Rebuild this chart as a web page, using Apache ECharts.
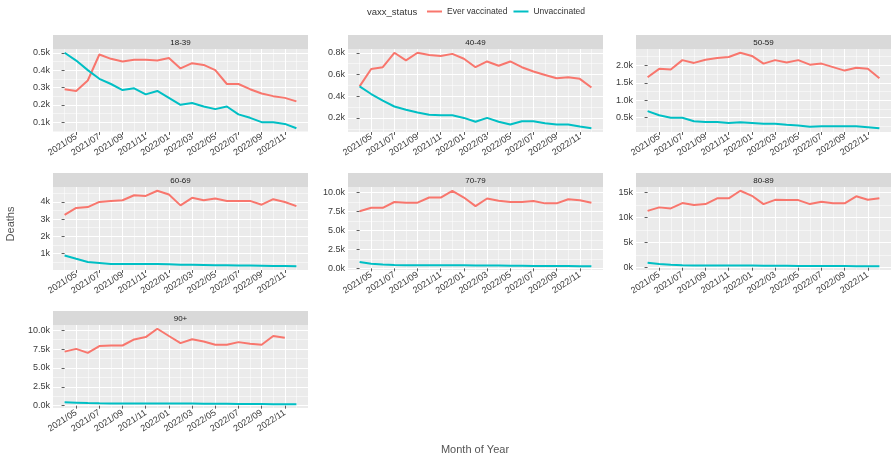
<!DOCTYPE html>
<html><head><meta charset="utf-8">
<script src="https://cdn.jsdelivr.net/npm/echarts@6/dist/echarts.min.js"></script>
<style>html,body{margin:0;padding:0;background:#fff}#c{width:894px;height:459px}</style>
</head><body><div id="c"></div>
<script>
// ---- data ----
const months = ['2021/04','2021/05','2021/06','2021/07','2021/08','2021/09','2021/10','2021/11','2021/12',
  '2022/01','2022/02','2022/03','2022/04','2022/05','2022/06','2022/07','2022/08','2022/09','2022/10','2022/11','2022/12'];
const xTickLabels = ['2021/05','2021/07','2021/09','2021/11','2022/01','2022/03','2022/05','2022/07','2022/09','2022/11'];
const ageGroups = ['18-39','40-49','50-59','60-69','70-79','80-89','90+'];
const seriesNames = ['Ever vaccinated','Unvaccinated'];

const ever_18_39 = [290,280,340,490,465,450,460,460,455,470,410,440,430,400,320,320,290,265,250,240,220];
const unvax_18_39 = [500,455,400,350,320,285,295,260,280,240,200,210,190,175,190,145,125,100,100,90,65];
const ever_40_49 = [490,650,667,800,730,800,780,770,790,745,667,720,680,720,667,627,596,565,575,560,480];
const unvax_40_49 = [490,420,360,305,275,250,230,225,225,200,165,200,165,140,170,170,150,140,140,120,105];
const ever_50_59 = [1660,1900,1880,2150,2070,2160,2210,2240,2360,2270,2050,2150,2080,2150,2020,2050,1950,1850,1930,1900,1630];
const unvax_50_59 = [690,570,500,500,400,380,380,350,370,350,330,330,300,280,240,260,260,260,260,230,200];
const ever_60_69 = [3250,3650,3700,4000,4060,4100,4390,4350,4650,4430,3800,4240,4100,4200,4060,4060,4060,3840,4160,4000,3760];
const unvax_60_69 = [880,690,510,450,390,390,390,390,390,370,350,340,330,320,310,300,300,290,280,280,260];
const ever_70_79 = [7530,7980,7980,8740,8650,8650,9330,9330,10220,9330,8200,9200,8900,8740,8740,8880,8560,8560,9100,8970,8650];
const unvax_70_79 = [850,600,500,450,420,400,400,400,420,400,380,380,360,340,330,320,310,300,300,290,280];
const ever_80_89 = [11300,12000,11800,12850,12450,12650,13800,13800,15300,14300,12650,13500,13450,13450,12650,13100,12800,12800,14200,13500,13800];
const unvax_80_89 = [1000,750,600,500,450,430,420,420,430,420,400,390,380,370,360,350,340,330,320,310,300];
const ever_90p = [7170,7530,7000,7900,7980,7980,8790,9100,10200,9240,8300,8800,8500,8070,8070,8430,8200,8070,9240,9000,null];
const unvax_90p = [450,400,350,320,300,290,290,290,300,290,280,270,260,250,240,230,220,210,200,200,190];

const yBreaks_18_39 = [100,200,300,400,500];
const yBreaks_40_49 = [200,400,600,800];
const yBreaks_50_59 = [500,1000,1500,2000];
const yBreaks_60_69 = [1000,2000,3000,4000];
const yBreaks_70_79 = [0,2500,5000,7500,10000];
const yBreaks_80_89 = [0,5000,10000,15000];
const yBreaks_90p = [0,2500,5000,7500,10000];

// ---- assembly ----
const everAll = [ever_18_39,ever_40_49,ever_50_59,ever_60_69,ever_70_79,ever_80_89,ever_90p];
const unvaxAll = [unvax_18_39,unvax_40_49,unvax_50_59,unvax_60_69,unvax_70_79,unvax_80_89,unvax_90p];
const yBreaksAll = [yBreaks_18_39,yBreaks_40_49,yBreaks_50_59,yBreaks_60_69,yBreaks_70_79,yBreaks_80_89,yBreaks_90p];
const yDecimals = [1,1,1,0,1,0,1];

const colors = ['#F8766D','#00BFC4'];
const FONT = 'Liberation Sans, Arial, sans-serif';
const AXIS_FS = 9;
const colLeft = [53,348,636], panelW = 255;
const rowTop = [35,173,311], stripH = 14, plotH = 83;

const xMajor = xTickLabels.map(l => months.indexOf(l));
const xMinor = [];
for (let i = 0; i < months.length; i += 2) xMinor.push(i);
const xMin = -1, xMax = months.length;

const grids = [], xAxes = [], yAxes = [], series = [], graphics = [];
ageGroups.forEach((g, i) => {
  const col = i % 3, row = Math.floor(i / 3);
  const left = colLeft[col], top = rowTop[row] + stripH;
  grids.push({left: left, top: top, width: panelW, height: plotH, show: true,
    backgroundColor: '#EBEBEB', borderWidth: 0, containLabel: false});
  graphics.push({type: 'rect', left: left, top: rowTop[row], shape: {width: panelW, height: stripH},
    style: {fill: '#D9D9D9'}, silent: true});
  graphics.push({type: 'text', x: left + panelW / 2, y: rowTop[row] + stripH / 2 + 0.5,
    style: {text: g, fill: '#1A1A1A', font: '8px ' + FONT, textAlign: 'center', textVerticalAlign: 'middle'}, silent: true});

  const vals = everAll[i].concat(unvaxAll[i]).filter(v => v != null);
  const lo = Math.min.apply(null, vals), hi = Math.max.apply(null, vals);
  const pad = (hi - lo) * 0.05;
  const yMin = lo - pad, yMax = hi + pad;
  const br = yBreaksAll[i];
  const step = br[1] - br[0];
  const yMinor = [];
  for (let k = 0; k < br.length - 1; k++) yMinor.push((br[k] + br[k+1]) / 2);
  if (br[0] - step / 2 >= yMin) yMinor.unshift(br[0] - step / 2);
  if (br[br.length-1] + step / 2 <= yMax) yMinor.push(br[br.length-1] + step / 2);
  const dec = yDecimals[i];

  xAxes.push({type: 'value', gridIndex: i, min: xMin, max: xMax, position: 'bottom',
    axisLine: {show: false},
    axisTick: {show: true, customValues: xMajor, length: 3, lineStyle: {color: '#333', width: 0.8}},
    axisLabel: {show: true, customValues: xMajor, rotate: 33, margin: 4, fontSize: AXIS_FS, fontFamily: FONT,
      color: '#3A3A3A', formatter: v => months[Math.round(v)] || ''},
    splitLine: {show: true, lineStyle: {color: '#FFFFFF', width: 1}}});
  xAxes.push({type: 'value', gridIndex: i, min: xMin, max: xMax, position: 'top',
    axisLine: {show: false}, axisLabel: {show: false},
    axisTick: {show: false, customValues: xMinor},
    splitLine: {show: true, lineStyle: {color: '#FFFFFF', width: 0.5}}});
  yAxes.push({type: 'value', gridIndex: i, min: yMin, max: yMax, position: 'left',
    axisLine: {show: false},
    axisTick: {show: true, customValues: br, length: 3, lineStyle: {color: '#333', width: 0.8}},
    axisLabel: {show: true, customValues: br, margin: 3, fontSize: AXIS_FS, fontFamily: FONT, color: '#3A3A3A',
      formatter: v => (v / 1000).toFixed(dec) + 'k'},
    splitLine: {show: true, lineStyle: {color: '#FFFFFF', width: 1}}});
  yAxes.push({type: 'value', gridIndex: i, min: yMin, max: yMax, position: 'right',
    axisLine: {show: false}, axisLabel: {show: false},
    axisTick: {show: false, customValues: yMinor},
    splitLine: {show: true, lineStyle: {color: '#FFFFFF', width: 0.5}}});

  [everAll[i], unvaxAll[i]].forEach((arr, s) => {
    series.push({type: 'line', name: seriesNames[s], xAxisIndex: 2 * i, yAxisIndex: 2 * i,
      data: arr.map((v, j) => [j, v]), showSymbol: false, symbol: 'none', connectNulls: false,
      color: colors[s], lineStyle: {width: 2, color: colors[s]}, silent: true, animation: false});
  });
});

graphics.push({type: 'text', x: 367, y: 12,
  style: {text: 'vaxx_status', fill: '#333', font: '9.5px ' + FONT, textVerticalAlign: 'middle'}});
graphics.push({type: 'text', x: 475, y: 450,
  style: {text: 'Month of Year', fill: '#555', font: '11px ' + FONT, textAlign: 'center', textVerticalAlign: 'middle'}});
graphics.push({type: 'text', x: 11, y: 224, rotation: Math.PI / 2,
  style: {text: 'Deaths', fill: '#555', font: '11px ' + FONT, textAlign: 'center', textVerticalAlign: 'middle'}});

const chart = echarts.init(document.getElementById('c'), null, {renderer: 'canvas'});
chart.setOption({
  animation: false,
  backgroundColor: '#FFFFFF',
  grid: grids, xAxis: xAxes, yAxis: yAxes, series: series,
  legend: {data: seriesNames, left: 427, top: 7, padding: 0, icon: 'rect', itemWidth: 15, itemHeight: 2, itemGap: 6,
    textStyle: {fontSize: 8.5, fontFamily: FONT, color: '#333'}, selectedMode: false},
  graphic: graphics
});
</script></body></html>
